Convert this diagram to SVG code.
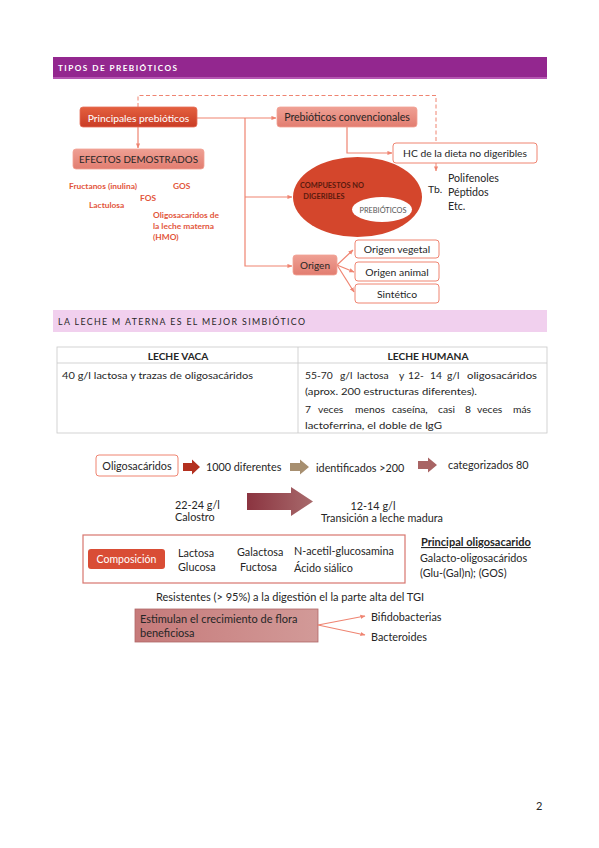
<svg xmlns="http://www.w3.org/2000/svg" width="599" height="848" viewBox="0 0 599 848">
<style>
text{font-family:Lato,"Liberation Sans",sans-serif;}
.ln{fill:none;stroke:#ef8471;stroke-width:1.2;}
.dash{fill:none;stroke:#ef8471;stroke-width:1;stroke-dasharray:4 2.5;}
.dk{fill:#262626;}
.red{fill:#e2553b;font-weight:bold;font-size:8.4px;}
.wb{fill:#fff;stroke:#ef8471;stroke-width:1;}
.sal{fill:url(#gs);stroke:#f2a294;stroke-width:0.8;}
.tb{fill:none;stroke:#c8c8c8;stroke-width:0.8;}
.t{font-size:10.8px;}
.tt{font-size:10.3px;}
</style>
<defs>
<marker id="ah" viewBox="0 0 6 6" refX="5.5" refY="3" markerWidth="5" markerHeight="5" orient="auto" markerUnits="userSpaceOnUse"><path d="M0,0.5 L6,3 L0,5.5 Z" fill="#ef8471"/></marker>
<linearGradient id="gr" x1="0" y1="0" x2="0" y2="1"><stop offset="0" stop-color="#e4603f"/><stop offset="1" stop-color="#c93c25"/></linearGradient>
<linearGradient id="gs" x1="0" y1="0" x2="0" y2="1"><stop offset="0" stop-color="#efa094"/><stop offset="1" stop-color="#e27d70"/></linearGradient>
<linearGradient id="gb" x1="0" y1="0" x2="1" y2="0"><stop offset="0" stop-color="#8b3440"/><stop offset="1" stop-color="#a86a6c"/></linearGradient>
<linearGradient id="ge" x1="0" y1="0" x2="1" y2="0"><stop offset="0" stop-color="#c67a7a"/><stop offset="1" stop-color="#d29a98"/></linearGradient>
</defs>

<g id="header1">
<rect x="53" y="57" width="494" height="22" fill="#93278f"/>
<rect x="53" y="77" width="494" height="2" fill="#b556b2"/>
<text x="58" y="71" font-size="8.2" font-weight="bold" fill="#fff" textLength="119" lengthAdjust="spacing">TIPOS DE PREBIÓTICOS</text>
</g>

<g id="connectors">
<path class="dash" d="M138,107 V95.5 H436 V171" marker-end="url(#ah)"/>
<path class="ln" d="M138,127 V148" marker-end="url(#ah)"/>
<path class="ln" d="M197,118 H276" marker-end="url(#ah)"/>
<path class="ln" d="M245,118 V266 H292" marker-end="url(#ah)"/>
<path class="ln" d="M245,197 H292" marker-end="url(#ah)"/>
<path class="ln" d="M347,127 V153 H392" marker-end="url(#ah)"/>
<path class="ln" d="M337,265 L353,250" marker-end="url(#ah)"/>
<path class="ln" d="M337,265 L354,272" marker-end="url(#ah)"/>
<path class="ln" d="M337,265 L354,292" marker-end="url(#ah)"/>
</g>

<g id="principales">
<rect x="80" y="107" width="117" height="20" rx="3" fill="url(#gr)" stroke="#e6705a" stroke-width="0.8"/>
<text x="138.5" y="121.5" font-size="10.3" fill="#fff" text-anchor="middle">Principales prebióticos</text>
</g>
<g id="efectos">
<rect x="73" y="149" width="131" height="20" rx="3" class="sal"/>
<text x="138.5" y="163" font-size="9.8" class="dk" text-anchor="middle">EFECTOS DEMOSTRADOS</text>
</g>
<g id="efectos-lista">
<text class="red" x="69" y="189">Fructanos (inulina)</text>
<text class="red" x="173" y="189">GOS</text>
<text class="red" x="140" y="201">FOS</text>
<text class="red" x="89" y="208">Lactulosa</text>
<text class="red" x="153" y="218">Oligosacaridos de</text>
<text class="red" x="153" y="229">la leche materna</text>
<text class="red" x="153" y="240">(HMO)</text>
</g>
<g id="convencionales">
<rect x="277" y="107" width="140" height="20" rx="3" class="sal"/>
<text x="347" y="121" font-size="10.6" class="dk" text-anchor="middle">Prebióticos convencionales</text>
</g>
<g id="hc">
<rect x="393" y="143" width="144" height="20" rx="3" class="wb"/>
<text x="465" y="157" font-size="10.3" class="dk" text-anchor="middle">HC de la dieta no digeribles</text>
</g>
<g id="tb">
<text x="428" y="193" font-size="10.4" class="dk">Tb.</text>
<text x="448" y="182" font-size="10.6" class="dk">Polifenoles</text>
<text x="448" y="196" font-size="10.6" class="dk">Péptidos</text>
<text x="448" y="210" font-size="10.6" class="dk">Etc.</text>
</g>
<g id="compuestos">
<ellipse cx="357.5" cy="197" rx="64.5" ry="40" fill="#d4462c"/>
<ellipse cx="382" cy="209.5" rx="30" ry="12.5" fill="#fff"/>
<text x="332" y="188" font-size="7.4" font-weight="bold" fill="#5a1a0e" text-anchor="middle">COMPUESTOS NO</text>
<text x="324" y="199" font-size="7.4" font-weight="bold" fill="#5a1a0e" text-anchor="middle">DIGERIBLES</text>
<text x="383" y="212.5" font-size="7.4" fill="#555" text-anchor="middle">PREBIÓTICOS</text>
</g>
<g id="origen">
<rect x="293" y="255" width="44" height="20" rx="3" class="sal"/>
<text x="315" y="269" font-size="10" class="dk" text-anchor="middle">Origen</text>
</g>
<g id="vegetal">
<rect x="355" y="240" width="84" height="18" rx="3" class="wb"/>
<text x="397" y="253" font-size="10.4" class="dk" text-anchor="middle">Origen vegetal</text>
</g>
<g id="animal">
<rect x="355" y="262" width="84" height="19" rx="3" class="wb"/>
<text x="397" y="275.5" font-size="10.4" class="dk" text-anchor="middle">Origen animal</text>
</g>
<g id="sintetico">
<rect x="355" y="284" width="84" height="19" rx="3" class="wb"/>
<text x="397" y="297.5" font-size="10.4" class="dk" text-anchor="middle">Sintético</text>
</g>

<g id="header2">
<rect x="53" y="310" width="494" height="22" fill="#f1d0ee"/>
<text x="58" y="324.5" font-size="8.8" fill="#262626" textLength="247" lengthAdjust="spacing">LA LECHE M ATERNA ES EL MEJOR SIMBIÓTICO</text>
</g>

<g id="tabla">
<rect class="tb" x="57" y="347" width="490" height="86"/>
<line class="tb" x1="57" y1="363" x2="547" y2="363"/>
<line class="tb" x1="298" y1="347" x2="298" y2="433"/>
<text x="178" y="359.5" font-size="10.2" font-weight="bold" class="dk" text-anchor="middle">LECHE VACA</text>
<text x="428" y="359.5" font-size="10.2" font-weight="bold" class="dk" text-anchor="middle">LECHE HUMANA</text>
<text x="62" y="378.5" class="tt dk" textLength="191" lengthAdjust="spacingAndGlyphs">40 g/l lactosa y trazas de oligosacáridos</text>
<text y="378.5" class="tt dk"><tspan x="305">55-70</tspan> <tspan x="340">g/l</tspan> <tspan x="357">lactosa</tspan> <tspan x="399">y</tspan> <tspan x="408">12-</tspan> <tspan x="430">14</tspan> <tspan x="447">g/l</tspan> <tspan x="467" textLength="70" lengthAdjust="spacingAndGlyphs">oligosacáridos</tspan></text>
<text x="305" y="394.5" class="tt dk" textLength="172" lengthAdjust="spacingAndGlyphs">(aprox. 200 estructuras diferentes).</text>
<text y="412.5" class="tt dk"><tspan x="305">7</tspan> <tspan x="318">veces</tspan> <tspan x="355">menos</tspan> <tspan x="392">caseína,</tspan> <tspan x="438">casi</tspan> <tspan x="465">8</tspan> <tspan x="477">veces</tspan> <tspan x="513">más</tspan></text>
<text x="305" y="429" class="tt dk" textLength="137" lengthAdjust="spacingAndGlyphs">lactoferrina, el doble de IgG</text>
</g>

<g id="oligosacaridos">
<rect x="96" y="455" width="82" height="21" rx="3" class="wb"/>
<text x="137" y="469.5" class="t dk" text-anchor="middle">Oligosacáridos</text>
</g>
<g id="flechas">
<polygon points="183,463 192,463 192,459.5 200,467 192,474.5 192,471 183,471" fill="#b3301f"/>
<polygon points="290,463 300,463 300,459.5 309,467 300,474.5 300,471 290,471" fill="#a78f70"/>
<polygon points="418,461 428,461 428,457.5 437,465 428,472.5 428,469 418,469" fill="#a86464"/>
<polygon points="247,493 291,493 291,487 313,501.5 291,516 291,510 247,510" fill="url(#gb)"/>
</g>
<g id="cadena">
<text x="206" y="471" class="t dk">1000 diferentes</text>
<text x="316" y="472" class="t dk">identificados &gt;200</text>
<text x="448" y="469" class="t dk">categorizados 80</text>
<text x="175" y="509" class="t dk">22-24 g/l</text>
<text x="175" y="521" class="t dk">Calostro</text>
<text x="373" y="510" class="t dk" text-anchor="middle">12-14 g/l</text>
<text x="382" y="522" class="t dk" text-anchor="middle">Transición a leche madura</text>
</g>

<g id="composicion">
<rect x="83" y="535" width="322" height="48" fill="none" stroke="#d8766e" stroke-width="1.2"/>
<rect x="88" y="549" width="77" height="20" rx="3" fill="#d94d35"/>
<text x="126.5" y="563" font-size="10.5" fill="#fff" text-anchor="middle">Composición</text>
<text x="178" y="557" class="t dk">Lactosa</text>
<text x="178" y="571" class="t dk">Glucosa</text>
<text x="237" y="556" class="t dk">Galactosa</text>
<text x="240" y="571" class="t dk">Fuctosa</text>
<text x="294" y="555" class="t dk">N-acetil-glucosamina</text>
<text x="294" y="572" class="t dk">Ácido  siálico</text>
</g>
<g id="principal">
<text x="421" y="546" font-size="11" font-weight="bold" class="dk" text-decoration="underline">Principal oligosacarido</text>
<text x="420" y="562" class="t dk">Galacto-oligosacáridos</text>
<text x="420" y="577" class="t dk">(Glu-(Gal)n); (GOS)</text>
</g>
<text x="156" y="601" font-size="11" class="dk">Resistentes (&gt; 95%) a la digestión el la parte alta del TGI</text>

<g id="estimulan">
<rect x="135" y="609" width="183" height="33" fill="url(#ge)" stroke="#b06868" stroke-width="0.8"/>
<text x="140" y="623" font-size="11" class="dk">Estimulan el crecimiento de flora</text>
<text x="140" y="637" font-size="11" class="dk">beneficiosa</text>
</g>
<g id="connectors2">
<path class="ln" d="M318,625 L365,616" marker-end="url(#ah)"/>
<path class="ln" d="M318,625 L365,635" marker-end="url(#ah)"/>
</g>
<g id="bacterias">
<text x="371" y="621" class="t dk">Bifidobacterias</text>
<text x="371" y="641" class="t dk">Bacteroides</text>
</g>
<text x="536" y="810" font-size="11" class="dk">2</text>
</svg>
